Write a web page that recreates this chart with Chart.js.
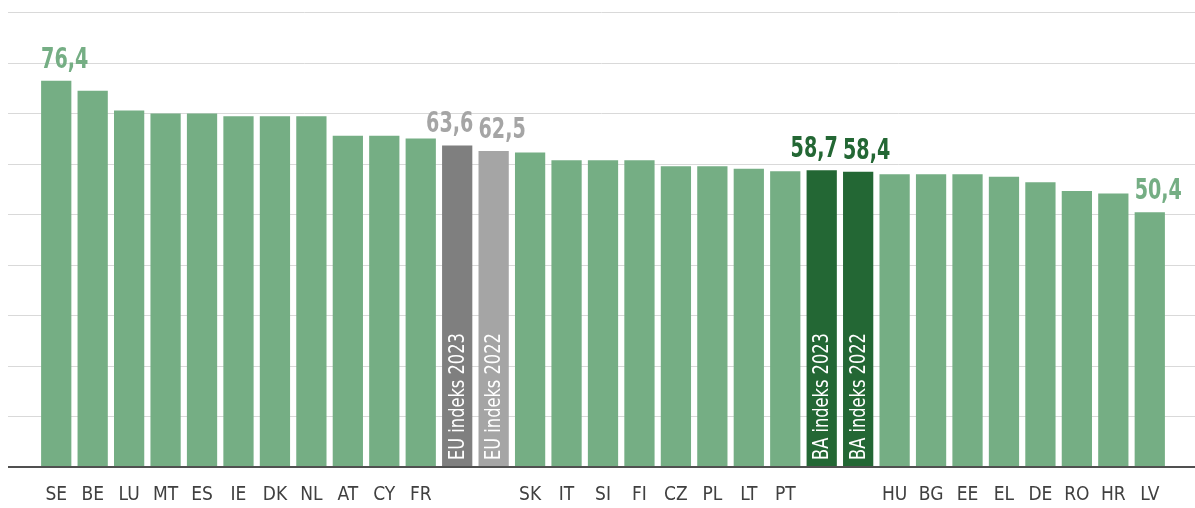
<!DOCTYPE html>
<html>
<head>
<meta charset="utf-8">
<script src="https://cdn.jsdelivr.net/npm/chart.js@4"></script>
<style>
  html, body { margin: 0; padding: 0; background: #fff; }
  #wrap { width: 1195px; height: 508px; }
</style>
</head>
<body>
<div id="wrap"><canvas id="indexChart"></canvas></div>
<script>
'use strict';

// Countries plus the EU and BA reference bars
const categories = ['SE', 'BE', 'LU', 'MT', 'ES', 'IE', 'DK', 'NL', 'AT', 'CY', 'FR',
    'EU indeks 2023', 'EU indeks 2022',
    'SK', 'IT', 'SI', 'FI', 'CZ', 'PL', 'LT', 'PT',
    'BA indeks 2023', 'BA indeks 2022',
    'HU', 'BG', 'EE', 'EL', 'DE', 'RO', 'HR', 'LV'];

const values = [76.4, 74.4, 70.5, 69.9, 69.9, 69.4, 69.4, 69.4, 65.5, 65.5, 65.0,
    63.6, 62.5,
    62.2, 60.7, 60.7, 60.7, 59.5, 59.5, 59.0, 58.5,
    58.7, 58.4,
    57.9, 57.9, 57.9, 57.4, 56.3, 54.6, 54.1, 50.4];

// Only these bars get a value on top
const labelled = ['SE', 'EU indeks 2023', 'EU indeks 2022', 'BA indeks 2023', 'BA indeks 2022', 'LV'];

const yTicks = [0, 10, 20, 30, 40, 50, 60, 70, 80, 90];

const GREEN = '#75ae84';
const DARK_GREEN = '#236734';
const GREY = '#7f7f7f';
const LIGHT_GREY = '#a5a5a5';
const FONT = '"DejaVu Sans Condensed", "Liberation Sans", sans-serif';

function barColor(name) {
    if (name === 'EU indeks 2023') return GREY;
    if (name === 'EU indeks 2022') return LIGHT_GREY;
    if (name.startsWith('BA')) return DARK_GREEN;
    return GREEN;
}

function labelColor(name) {
    if (name.startsWith('EU')) return LIGHT_GREY;
    if (name.startsWith('BA')) return DARK_GREEN;
    return GREEN;
}

// 2023 labels hug the right edge of their bar, the rest the left edge
function labelAlign(name) {
    return name.endsWith('2023') ? 'right' : 'left';
}

// Gridlines run the full width of the canvas, under the bars
const gridPlugin = {
    id: 'fullGrid',
    beforeDatasetsDraw(chart) {
        const ctx = chart.ctx;
        const y = chart.scales.y;
        ctx.save();
        yTicks.forEach(t => {
            const py = Math.round(y.getPixelForValue(t)) + 0.5;
            ctx.beginPath();
            ctx.strokeStyle = '#d9d9d9';
            ctx.lineWidth = 1;
            ctx.moveTo(8, py);
            ctx.lineTo(chart.width, py);
            ctx.stroke();
        });
        ctx.restore();
    },
    afterDatasetsDraw(chart) {
        const ctx = chart.ctx;
        const y = chart.scales.y;
        const py = y.getPixelForValue(0);
        ctx.save();
        ctx.beginPath();
        ctx.strokeStyle = '#505050';
        ctx.lineWidth = 2;
        ctx.moveTo(8, py);
        ctx.lineTo(chart.width, py);
        ctx.stroke();
        ctx.restore();
    }
};

// Value labels above bars and names written inside the reference bars
const labelPlugin = {
    id: 'barLabels',
    afterDatasetsDraw(chart) {
        const ctx = chart.ctx;
        const meta = chart.getDatasetMeta(0);
        ctx.save();
        meta.data.forEach((bar, i) => {
            const name = categories[i];
            const left = bar.x - bar.width / 2;
            const right = bar.x + bar.width / 2;
            if (labelled.includes(name)) {
                const align = labelAlign(name);
                const text = values[i].toFixed(1).replace('.', ',');
                ctx.save();
                ctx.translate(align === 'left' ? left : right + 1, bar.y - 13);
                ctx.scale(0.76, 1);
                ctx.font = 'bold 28px ' + FONT;
                ctx.fillStyle = labelColor(name);
                ctx.textBaseline = 'alphabetic';
                ctx.textAlign = align;
                ctx.fillText(text, 0, 0);
                ctx.restore();
            }
            if (name.includes('indeks')) {
                ctx.save();
                ctx.translate(bar.x, bar.base - 7);
                ctx.rotate(-Math.PI / 2);
                ctx.scale(0.86, 1);
                ctx.font = '21px ' + FONT;
                ctx.fillStyle = '#ffffff';
                ctx.textAlign = 'left';
                ctx.textBaseline = 'middle';
                ctx.fillText(name, 0, 1);
                ctx.restore();
            }
        });
        ctx.restore();
    }
};

const ctx = document.getElementById('indexChart').getContext('2d');
const indexChart = new Chart(ctx, {
    type: 'bar',
    data: {
        labels: categories,
        datasets: [{
            data: values,
            backgroundColor: categories.map(barColor),
            borderWidth: 0,
            barPercentage: 0.83,
            categoryPercentage: 1.0
        }]
    },
    options: {
        responsive: true,
        maintainAspectRatio: false,
        animation: false,
        layout: {
            padding: { left: 38, right: 27, top: 12, bottom: 2 }
        },
        plugins: {
            legend: { display: false },
            tooltip: { enabled: false }
        },
        scales: {
            x: {
                grid: { display: false, drawTicks: false, tickLength: 0 },
                border: { display: false },
                afterFit(scale) { scale.height = 39; },
                ticks: {
                    autoSkip: false,
                    maxRotation: 0,
                    padding: 17,
                    color: '#404040',
                    font: { family: FONT, size: 19 },
                    callback: function (value, index) {
                        const name = categories[index];
                        return name.includes('indeks') ? '' : name;
                    }
                }
            },
            y: {
                display: false,
                min: 0,
                max: 90
            }
        }
    },
    plugins: [gridPlugin, labelPlugin]
});
</script>
</body>
</html>
